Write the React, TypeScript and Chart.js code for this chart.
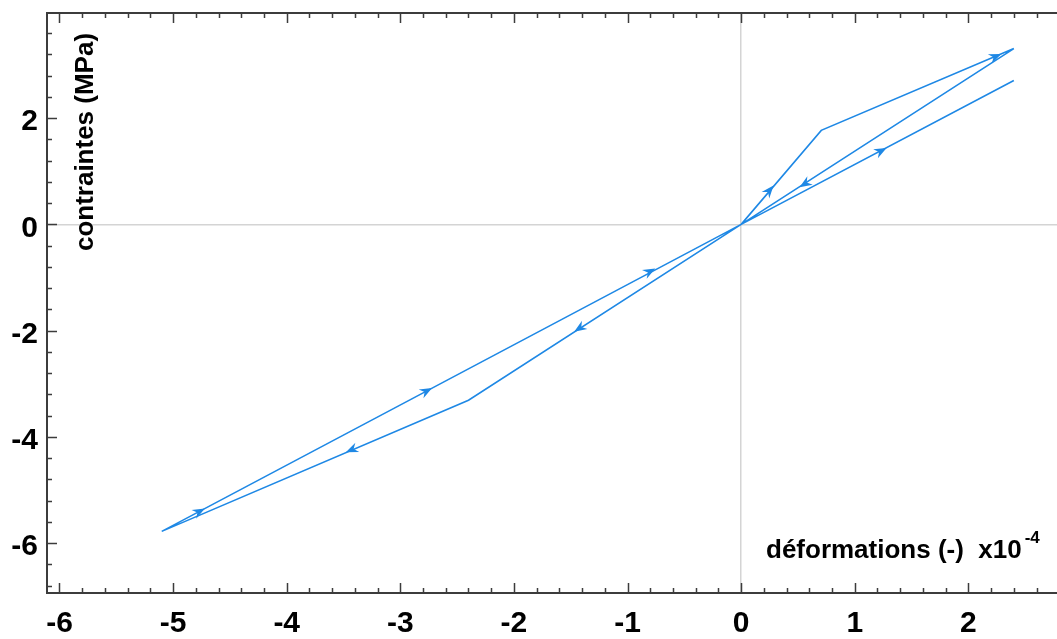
import React, { useEffect, useRef } from 'react';
import { Chart, registerables } from 'chart.js';

Chart.register(...registerables);

// Path of the stress-strain loop (strain in x10^-4, stress in MPa)
const STRAIN = [0, 0.705, 2.4, 0, -2.4, -5.1, 0, 2.4];
const STRESS = [0, 1.77, 3.31, 0, -3.31, -5.78, 0, 2.71];

// Arrow heads: segment index (from point i to i+1) and tip position
const ARROW_SEGMENT = [0, 1, 2, 3, 4, 5, 5, 5, 6];
const ARROW_STRAIN = [0.285, 2.29, 0.514, -1.47, -3.48, -4.72, -2.72, -0.755, 1.28];
const ARROW_STRESS = [0.73, 3.21, 0.7, -2.02, -4.29, -5.35, -3.08, -0.83, 1.44];

const X_TICKS = [-6, -5, -4, -3, -2, -1, 0, 1, 2];
const Y_TICKS = [-6, -4, -2, 0, 2];
const X_MINOR_STEP = 0.2;
const Y_MINOR_STEP = 0.4;
const X_MIN = -6.11;
const X_MAX = 2.78;
const Y_MIN = -6.94;
const Y_MAX = 3.98;

const X_TITLE = 'déformations (-)  x10';
const X_EXP = '-4';
const Y_TITLE = 'contraintes (MPa)';

const LINE_COLOR = '#1e88e5';
const AXIS_COLOR = '#3c3c3c';
const ZERO_COLOR = '#d4d4d4';
const FONT = '"Liberation Sans", Arial, Helvetica, sans-serif';

const framePlugin = {
  id: 'frame',
  afterDatasetsDraw(chart: any) {
    const ctx = chart.ctx as CanvasRenderingContext2D;
    const xs = chart.scales.x;
    const ys = chart.scales.y;
    const { left, right, top, bottom } = chart.chartArea;

    // arrows
    ctx.save();
    ctx.fillStyle = LINE_COLOR;
    for (let i = 0; i < ARROW_SEGMENT.length; i++) {
      const s = ARROW_SEGMENT[i];
      const x0 = xs.getPixelForValue(STRAIN[s]);
      const y0 = ys.getPixelForValue(STRESS[s]);
      const x1 = xs.getPixelForValue(STRAIN[s + 1]);
      const y1 = ys.getPixelForValue(STRESS[s + 1]);
      const ang = Math.atan2(y1 - y0, x1 - x0);
      const tx = xs.getPixelForValue(ARROW_STRAIN[i]);
      const ty = ys.getPixelForValue(ARROW_STRESS[i]);
      ctx.save();
      ctx.translate(tx, ty);
      ctx.rotate(ang);
      ctx.beginPath();
      ctx.moveTo(0, 0);
      ctx.lineTo(-12.5, 5);
      ctx.lineTo(-8.5, 0);
      ctx.lineTo(-12.5, -5);
      ctx.closePath();
      ctx.fill();
      ctx.restore();
    }
    ctx.restore();

    // axes frame
    ctx.save();
    ctx.strokeStyle = AXIS_COLOR;
    ctx.lineWidth = 2;
    ctx.beginPath();
    ctx.moveTo(right, top);
    ctx.lineTo(left, top);
    ctx.lineTo(left, bottom);
    ctx.lineTo(right, bottom);
    ctx.stroke();

    ctx.lineWidth = 1.5;
    ctx.beginPath();
    // x ticks (bottom and top), pointing inward
    const xStart = Math.ceil(X_MIN / X_MINOR_STEP);
    const xEnd = Math.floor(X_MAX / X_MINOR_STEP);
    for (let k = xStart; k <= xEnd; k++) {
      const v = k * X_MINOR_STEP;
      const major = Math.abs(v - Math.round(v)) < 1e-6;
      const len = major ? 10 : 5;
      const px = Math.round(xs.getPixelForValue(v)) + 0.5;
      ctx.moveTo(px, bottom);
      ctx.lineTo(px, bottom - len);
      ctx.moveTo(px, top);
      ctx.lineTo(px, top + len);
    }
    const yStart = Math.ceil(Y_MIN / Y_MINOR_STEP);
    const yEnd = Math.floor(Y_MAX / Y_MINOR_STEP);
    for (let k = yStart; k <= yEnd; k++) {
      const v = k * Y_MINOR_STEP;
      const major = Math.abs(v / 2 - Math.round(v / 2)) < 1e-6;
      const len = major ? 10 : 5;
      const py = Math.round(ys.getPixelForValue(v)) + 0.5;
      ctx.moveTo(left, py);
      ctx.lineTo(left + len, py);
    }
    ctx.stroke();
    ctx.restore();

    // titles
    ctx.save();
    ctx.fillStyle = '#000';
    ctx.font = `bold 26px ${FONT}`;
    ctx.textAlign = 'center';
    ctx.textBaseline = 'middle';
    ctx.translate(86, 142);
    ctx.rotate(-Math.PI / 2);
    ctx.fillText(Y_TITLE, 0, 0);
    ctx.restore();

    ctx.save();
    ctx.fillStyle = '#000';
    ctx.font = `bold 26px ${FONT}`;
    ctx.textAlign = 'left';
    ctx.textBaseline = 'alphabetic';
    const tx0 = 766;
    const ty0 = 558;
    ctx.fillText(X_TITLE, tx0, ty0);
    const w = ctx.measureText(X_TITLE).width;
    ctx.font = `bold 17px ${FONT}`;
    ctx.fillText(X_EXP, tx0 + w + 3, ty0 - 15);
    ctx.restore();
  },
};

export default function App() {
  const ref = useRef<HTMLCanvasElement | null>(null);

  useEffect(() => {
    if (!ref.current) return;
    const points = STRAIN.map((x, i) => ({ x, y: STRESS[i] }));
    const chart = new Chart(ref.current, {
      type: 'scatter',
      data: {
        datasets: [
          {
            data: points,
            showLine: true,
            borderColor: LINE_COLOR,
            borderWidth: 1.6,
            pointRadius: 0,
            pointHoverRadius: 0,
            fill: false,
            tension: 0,
          },
        ],
      },
      options: {
        animation: false,
        responsive: false,
        devicePixelRatio: 1,
        events: [],
        layout: { padding: { top: 13, right: 0, left: 0, bottom: 0 } },
        plugins: {
          legend: { display: false },
          tooltip: { enabled: false },
          title: { display: false },
        },
        scales: {
          x: {
            type: 'linear',
            min: X_MIN,
            max: X_MAX,
            afterBuildTicks: (s: any) => {
              s.ticks = X_TICKS.map((v) => ({ value: v }));
            },
            afterFit: (s: any) => {
              s.height = 46;
              s.paddingLeft = 0;
              s.paddingRight = 0;
            },
            border: { display: false },
            grid: {
              drawTicks: false,
              lineWidth: 1.5,
              color: (c: any) => (c.tick && c.tick.value === 0 ? ZERO_COLOR : 'rgba(0,0,0,0)'),
            },
            ticks: {
              padding: 13,
              maxRotation: 0,
              autoSkip: false,
              color: '#000',
              font: { family: FONT, size: 30, weight: 'bold' },
              callback: (v: any) => String(v),
            },
          },
          y: {
            type: 'linear',
            min: Y_MIN,
            max: Y_MAX,
            afterBuildTicks: (s: any) => {
              s.ticks = Y_TICKS.map((v) => ({ value: v }));
            },
            afterFit: (s: any) => {
              s.width = 47;
              s.paddingTop = 0;
              s.paddingBottom = 0;
            },
            border: { display: false },
            grid: {
              drawTicks: false,
              lineWidth: 1.5,
              color: (c: any) => (c.tick && c.tick.value === 0 ? ZERO_COLOR : 'rgba(0,0,0,0)'),
            },
            ticks: {
              padding: 9,
              labelOffset: 4,
              autoSkip: false,
              color: '#000',
              font: { family: FONT, size: 30, weight: 'bold' },
              callback: (v: any) => String(v),
            },
          },
        },
      },
      plugins: [framePlugin],
    });
    return () => chart.destroy();
  }, []);

  return (
    <div style={{ position: 'fixed', left: 0, top: 0, width: 1057, height: 639, background: '#fff' }}>
      <canvas ref={ref} width={1057} height={639} style={{ display: 'block' }} />
    </div>
  );
}
